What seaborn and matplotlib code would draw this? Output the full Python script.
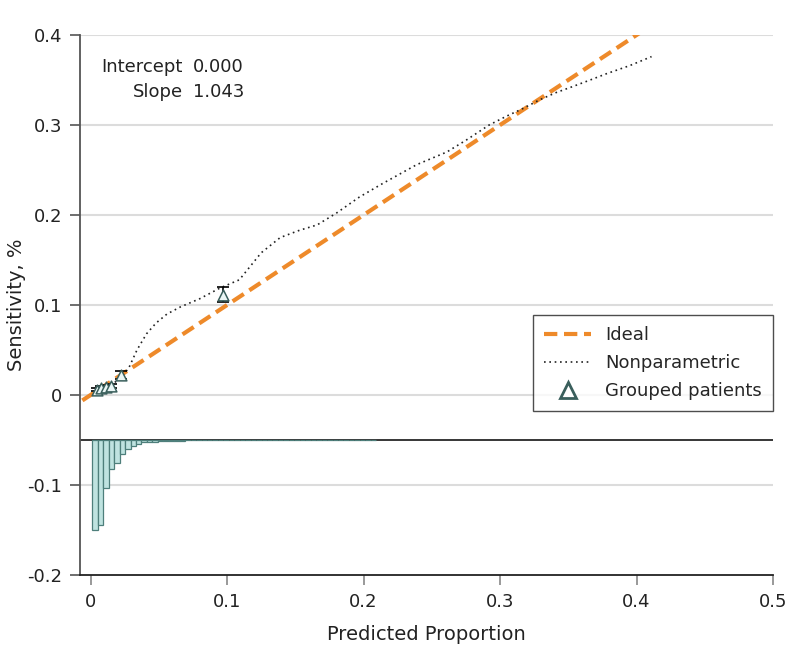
import numpy as np
import pandas as pd
import matplotlib
matplotlib.use("Agg")
import matplotlib.pyplot as plt
import seaborn as sns
from matplotlib.lines import Line2D

# ---------------- data ----------------
ideal_x = [-0.006, 0.406]
ideal_y = [-0.006, 0.406]

np_x = [0.004, 0.010, 0.016, 0.022, 0.028, 0.034, 0.041, 0.048, 0.056, 0.066,
        0.080, 0.095, 0.109, 0.117, 0.125, 0.139, 0.153, 0.166, 0.180, 0.197,
        0.214, 0.239, 0.261, 0.276, 0.292, 0.305, 0.317, 0.329, 0.341, 0.353,
        0.366, 0.378, 0.395, 0.411]
np_y = [0.003, 0.007, 0.012, 0.019, 0.030, 0.050, 0.068, 0.080, 0.090, 0.098,
        0.107, 0.119, 0.128, 0.143, 0.158, 0.175, 0.183, 0.189, 0.202, 0.220,
        0.235, 0.256, 0.270, 0.284, 0.300, 0.310, 0.3185, 0.328, 0.336, 0.3426,
        0.350, 0.357, 0.366, 0.376]

grp_x = [0.005, 0.008, 0.011, 0.015, 0.022, 0.097]
grp_y = [0.006, 0.008, 0.009, 0.010, 0.022, 0.111]
grp_lo = [0.004, 0.006, 0.007, 0.008, 0.018, 0.103]
grp_hi = [0.008, 0.010, 0.011, 0.012, 0.027, 0.120]

hist_base = -0.05
hist_start = 0.0013
hist_width = 0.004
hist_depth = [0.100, 0.0944, 0.0537, 0.0326, 0.0260, 0.0156, 0.0097, 0.0063,
              0.0041, 0.0026, 0.0020, 0.0017, 0.0012, 0.0010, 0.0008, 0.0007,
              0.0006, 0.0005, 0.0005, 0.0004, 0.0004, 0.0003, 0.0003, 0.0003,
              0.0003, 0.0002, 0.0002, 0.0002, 0.0002, 0.0002, 0.0002, 0.0002,
              0.0002, 0.0002, 0.0002, 0.0002, 0.0002, 0.0002, 0.0002, 0.0002,
              0.0002, 0.0002, 0.0002, 0.0002, 0.0002, 0.0002, 0.0002, 0.0002,
              0.0002, 0.0002, 0.0002, 0.0002]

x_ticks = [0, 0.1, 0.2, 0.3, 0.4, 0.5]
x_ticklabels = ["0", "0.1", "0.2", "0.3", "0.4", "0.5"]
y_ticks = [-0.2, -0.1, 0, 0.1, 0.2, 0.3, 0.4]
y_ticklabels = ["-0.2", "-0.1", "0", "0.1", "0.2", "0.3", "0.4"]

intercept_txt = "0.000"
slope_txt = "1.043"

# ---------------- style ----------------
sns.set_theme(style="white")
plt.rcParams["font.family"] = ["DejaVu Sans"]
plt.rcParams["axes.unicode_minus"] = False

ORANGE = "#EE8A2A"
TEAL_FILL = "#BFE3E0"
TEAL_EDGE = "#4E7F7B"
MARK_EDGE = "#3A5F5C"

fig = plt.figure(figsize=(7.98, 6.72), dpi=100)
ax = fig.add_axes([0.1003, 0.1443, 0.8684, 0.8036])

ax.set_xlim(-0.0077, 0.5)
ax.set_ylim(-0.2, 0.4)

# grid lines
for yv in y_ticks:
    if yv > -0.2:
        ax.axhline(yv, color="#DCDCDC", lw=1.5, zorder=0)
ax.axhline(hist_base, color="black", lw=1.1, zorder=1)

# histogram of predicted probabilities (hanging below baseline)
edges = hist_start + hist_width * np.arange(len(hist_depth))
ax.bar(edges, [-d for d in hist_depth], width=hist_width, bottom=hist_base,
       align="edge", color=TEAL_FILL, edgecolor=TEAL_EDGE, linewidth=0.9, zorder=2)

# ideal line
sns.lineplot(x=ideal_x, y=ideal_y, ax=ax, color=ORANGE, lw=3.0,
             linestyle=(0, (3.2, 1.6)), zorder=3)
# nonparametric
sns.lineplot(x=np_x, y=np_y, ax=ax, color="#222222", lw=1.2,
             linestyle=(0, (1, 2.2)), zorder=4, sort=False)

# grouped patients with error bars
gx = np.array(grp_x); gy = np.array(grp_y)
ax.errorbar(gx, gy, yerr=[gy - np.array(grp_lo), np.array(grp_hi) - gy],
            fmt="none", ecolor="black", elinewidth=1.2, capsize=4, capthick=1.2, zorder=5)
sns.scatterplot(x=grp_x, y=grp_y, ax=ax, marker="^", s=60, facecolor="#EAF6F5",
                edgecolor=MARK_EDGE, linewidth=1.1, zorder=6)

# spines & ticks
for s in ["top", "right"]:
    ax.spines[s].set_visible(False)
ax.spines["left"].set_color("#555555")
ax.spines["left"].set_linewidth(1.3)
ax.spines["bottom"].set_color("#222222")
ax.spines["bottom"].set_linewidth(1.3)

ax.set_xticks(x_ticks)
ax.set_xticklabels(x_ticklabels)
ax.set_yticks(y_ticks)
ax.set_yticklabels(y_ticklabels)
ax.tick_params(axis="both", which="both", labelsize=13, colors="#222222",
               length=7, width=1.2, direction="out", pad=6)
ax.tick_params(axis="x", color="#888888")
ax.tick_params(axis="y", color="#555555", length=7)
ax.tick_params(bottom=True, left=True)

ax.set_xlabel("Predicted Proportion", fontsize=14, labelpad=10, color="#222222")
ax.set_ylabel("Sensitivity, %", fontsize=14, labelpad=1, color="#222222")

# annotation
ax.text(0.0675, 0.3644, "Intercept", ha="right", va="center", fontsize=13, color="#222222")
ax.text(0.0753, 0.3644, intercept_txt, ha="left", va="center", fontsize=13, color="#222222")
ax.text(0.0675, 0.3367, "Slope", ha="right", va="center", fontsize=13, color="#222222")
ax.text(0.0753, 0.3367, slope_txt, ha="left", va="center", fontsize=13, color="#222222")

# legend
handles = [
    Line2D([0], [0], color=ORANGE, lw=3.0, linestyle=(0, (3.2, 1.6))),
    Line2D([0], [0], color="#222222", lw=1.2, linestyle=(0, (1, 2.2))),
    Line2D([0], [0], color="none", marker="^", markersize=11, markerfacecolor="white",
           markeredgecolor=MARK_EDGE, markeredgewidth=2),
]
leg = ax.legend(handles, ["Ideal", "Nonparametric", "Grouped patients"],
                loc="lower right", bbox_to_anchor=(1.0, 0.3037), borderaxespad=0,
                fontsize=13, frameon=True, fancybox=False, edgecolor="#222222",
                handlelength=2.6, handletextpad=0.8, borderpad=0.6, labelspacing=0.55)
leg.get_frame().set_linewidth(1.0)

fig.savefig("out.png", dpi=100)
